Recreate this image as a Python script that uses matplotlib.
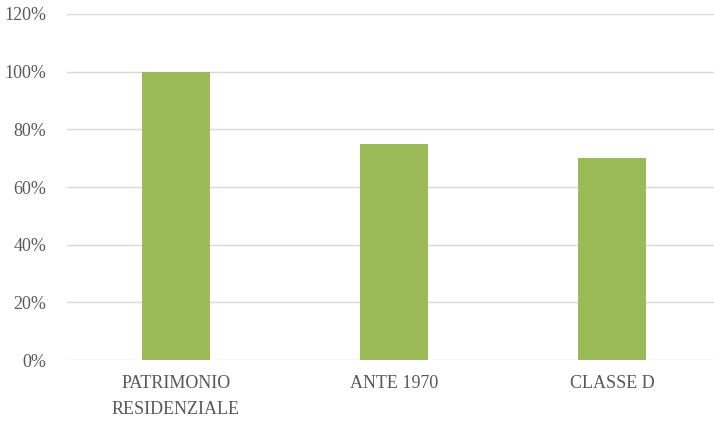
import matplotlib.pyplot as plt
from matplotlib.ticker import FuncFormatter

categories = ['PATRIMONIO\nRESIDENZIALE', 'ANTE 1970', 'CLASSE D']
values = [1.00, 0.75, 0.70]
yticks = [0, 0.2, 0.4, 0.6, 0.8, 1.0, 1.2]

plt.rcParams['font.family'] = ['Liberation Serif', 'DejaVu Serif']

fig = plt.figure(figsize=(7.14, 4.23), dpi=100)
ax = fig.add_axes([67/714, 1-360/423, 654/714, 346/423])

ax.bar(range(len(categories)), values, width=0.31, color='#9bbb59', zorder=3)

ax.set_xlim(-0.5, len(categories) - 0.5)
ax.set_ylim(0, 1.2)
ax.set_yticks(yticks)
ax.yaxis.set_major_formatter(FuncFormatter(lambda v, p: f'{v*100:.0f}%'))
ax.set_xticks(range(len(categories)))
ax.set_xticklabels(categories, linespacing=1.7)

ax.grid(axis='y', color='#d9d9d9', linewidth=1, zorder=0)
for s in ax.spines.values():
    s.set_visible(False)
ax.tick_params(axis='both', length=0, labelsize=13, labelcolor='#595959')
ax.tick_params(axis='x', pad=11)
ax.tick_params(axis='y', pad=15)

fig.savefig('out.png', dpi=100)
